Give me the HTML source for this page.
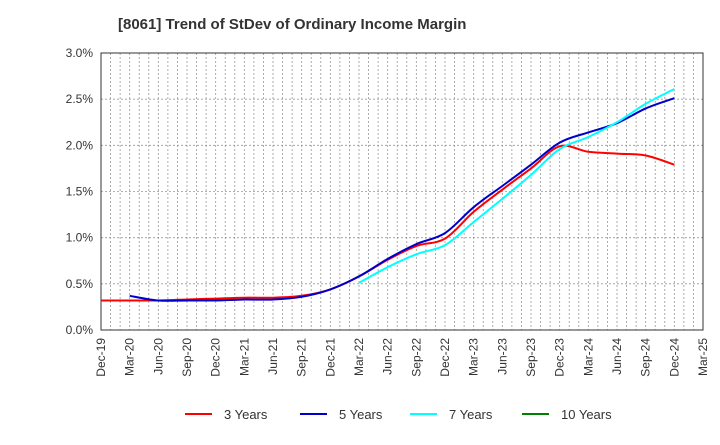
<!DOCTYPE html>
<html><head><meta charset="utf-8"><style>
body{margin:0;background:#fff;font-family:"Liberation Sans",sans-serif}
</style></head><body>
<svg id="c" width="720" height="440" xmlns="http://www.w3.org/2000/svg" font-family="Liberation Sans, sans-serif">
<text x="118" y="29" font-size="15" font-weight="bold" fill="#333">[8061]  Trend of StDev of Ordinary Income Margin</text>
<g id="grid"></g><g id="axes"></g><g id="series"></g><g id="legend"></g>
</svg>
<script>
const xLabels=["Dec-19","Mar-20","Jun-20","Sep-20","Dec-20","Mar-21","Jun-21","Sep-21","Dec-21","Mar-22","Jun-22","Sep-22","Dec-22","Mar-23","Jun-23","Sep-23","Dec-23","Mar-24","Jun-24","Sep-24","Dec-24","Mar-25"];
const yTicks=[0,0.5,1.0,1.5,2.0,2.5,3.0];
const seriesNames=["3 Years","5 Years","7 Years","10 Years"];
const seriesColors=["#ff0000","#0000cc","#00ffff","#008000"];
const s3=[0.32,0.32,0.32,0.33,0.34,0.35,0.35,0.37,0.44,0.58,0.76,0.91,0.99,1.28,1.52,1.75,1.99,1.93,1.91,1.89,1.79];
const s5=[null,0.37,0.32,0.32,0.32,0.33,0.33,0.36,0.44,0.58,0.77,0.93,1.05,1.33,1.56,1.79,2.03,2.14,2.24,2.40,2.51];
const s7=[null,null,null,null,null,null,null,null,null,0.51,0.68,0.82,0.92,1.17,1.42,1.68,1.96,2.09,2.25,2.45,2.61];
const s10=[];
const L=101,R=703,T=53,B=330,NS="http://www.w3.org/2000/svg";
const xq=i=>L+(R-L)*i/(xLabels.length-1);
const ym=v=>B-(B-T)*v/3.0;
function mk(p,t,a){const e=document.createElementNS(NS,t);for(const k in a)e.setAttribute(k,a[k]);p.appendChild(e);return e;}
const g=document.getElementById('grid'),ax=document.getElementById('axes'),sg=document.getElementById('series'),lg=document.getElementById('legend');
const months=(xLabels.length-1)*3;
for(let m=1;m<months;m++){const x=L+(R-L)*m/months;
const ln=mk(g,'line',{x1:x,x2:x,y1:T,y2:B,stroke:'#999','stroke-width':0.8,'stroke-dasharray':'2,2'});

}
yTicks.forEach(v=>{const y=ym(v);
if(v>0&&v<3){const ln=mk(g,'line',{x1:L,x2:R,y1:y,y2:y,stroke:'#999','stroke-width':0.8,'stroke-dasharray':'2,2'});

}
const t=mk(ax,'text',{x:L-8,y:y+4,'text-anchor':'end','font-size':12,fill:'#333'});t.textContent=v.toFixed(1)+'%';

});
const fr=mk(ax,'rect',{x:L,y:T,width:R-L,height:B-T,fill:'none',stroke:'#333','stroke-width':1});


xLabels.forEach((s,i)=>{const x=xq(i);
const t=mk(ax,'text',{x:x+4,y:B+8,'text-anchor':'end','font-size':12,fill:'#333',transform:`rotate(-90 ${x+4} ${B+8})`});t.textContent=s;

});
function smooth(pts){if(!pts.length)return'';let d='M'+pts[0][0].toFixed(1)+','+pts[0][1].toFixed(1);
for(let i=0;i<pts.length-1;i++){const p0=pts[i-1]||pts[i],p1=pts[i],p2=pts[i+1],p3=pts[i+2]||p2;
const c1=[p1[0]+(p2[0]-p0[0])/6,p1[1]+(p2[1]-p0[1])/6],c2=[p2[0]-(p3[0]-p1[0])/6,p2[1]-(p3[1]-p1[1])/6];
d+='C'+c1[0].toFixed(1)+','+c1[1].toFixed(1)+' '+c2[0].toFixed(1)+','+c2[1].toFixed(1)+' '+p2[0].toFixed(1)+','+p2[1].toFixed(1);}
return d;}
[s3,s5,s7,s10].forEach((d,k)=>{const pts=[];d.forEach((v,i)=>{if(v!=null)pts.push([xq(i),ym(v)]);});
if(pts.length){const e=mk(sg,'path',{d:smooth(pts),fill:'none',stroke:seriesColors[k],'stroke-width':2,'stroke-linejoin':'round'});

}});
const lx=[185,300,410,522];
seriesNames.forEach((n,k)=>{const gg=mk(lg,'g',{});


mk(gg,'line',{x1:lx[k],x2:lx[k]+27,y1:414,y2:414,stroke:seriesColors[k],'stroke-width':2});
const t=mk(gg,'text',{x:lx[k]+39,y:419,'font-size':13,fill:'#333'});t.textContent=n;});
</script>
</body></html>
